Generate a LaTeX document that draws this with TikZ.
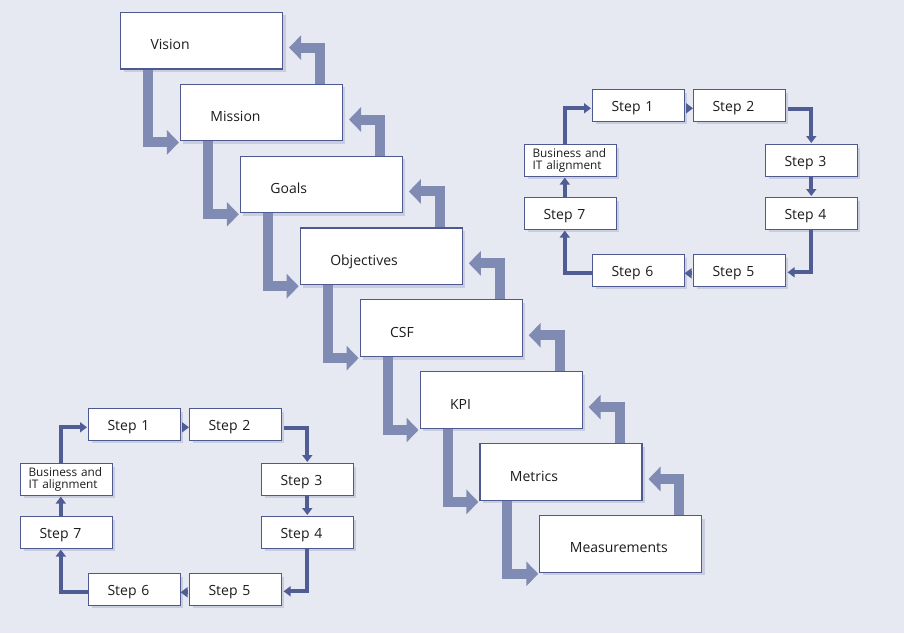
\documentclass[tikz,border=0pt]{standalone}
\usepackage{fontspec}
\setmainfont{Open Sans}
\usetikzlibrary{arrows.meta,shadows}
\definecolor{bgc}{HTML}{E6E8F2}
\definecolor{boxc}{HTML}{4E5990}
\definecolor{shc}{HTML}{C9CDE0}
\definecolor{bigc}{HTML}{7F8BB3}
\definecolor{cycc}{HTML}{505D95}
\definecolor{txtc}{HTML}{1C1C1C}
\tikzset{
  boxbase/.style={draw=boxc, fill=white, line width=1.1pt, anchor=north west,
    align=left, text=txtc,
    drop shadow={shadow xshift=3pt, shadow yshift=-3pt, fill=shc, opacity=1}},
  mainbox/.style={boxbase, minimum width=162pt, minimum height=56.7pt,
    inner xsep=30pt, text width=102pt, text height=18pt, text depth=0pt,
    font=\fontsize{14}{16}\selectfont},
  stepbox/.style={boxbase, minimum width=91.5pt, minimum height=31.5pt,
    inner xsep=19pt, text width=53.5pt, text height=12pt, text depth=0pt,
    font=\fontsize{14}{16}\selectfont},
  bizbox/.style={boxbase, minimum width=91.5pt, minimum height=31.5pt,
    inner xsep=8pt, text width=75.5pt, inner ysep=2pt,
    font=\fontsize{11.8}{12.7}\selectfont},
  bigarrow/.style={draw=bigc, line width=10pt,
    -{Triangle[length=12pt,width=24pt]}},
  cycarrow/.style={draw=cycc, line width=4pt,
    -{Triangle[length=7pt,width=10pt]}},
  stepcycle/.pic={
    \node[stepbox] (s1) at (0,0) {Step 1};
    \node[stepbox] (s2) at (101,0) {Step 2};
    \node[stepbox] (s3) at (173,55) {Step 3};
    \node[stepbox] (s4) at (173,108) {Step 4};
    \node[stepbox] (s5) at (101,165) {Step 5};
    \node[stepbox] (s6) at (0,165) {Step 6};
    \node[stepbox] (s7) at (-68,108) {Step 7};
    \node[bizbox] (biz) at (-68,55) {Business and\\IT alignment};
    \draw[cycarrow, shorten <=1pt] ([yshift=-3pt]s1.east) -- ([yshift=-3pt]s2.west);
    \draw[cycarrow, shorten >=1pt] ([xshift=2pt,yshift=-4pt]s2.east) -| (s3.north);
    \draw[cycarrow, shorten >=1pt] (s3.south) -- (s4.north);
    \draw[cycarrow, shorten >=2pt] (s4.south) |- ([yshift=-2pt]s5.east);
    \draw[cycarrow, shorten <=1pt] ([yshift=-3pt]s5.west) -- ([yshift=-3pt]s6.east);
    \draw[cycarrow, shorten >=1pt] ([yshift=-3pt]s6.west) -| ([xshift=-5.5pt]s7.south);
    \draw[cycarrow, shorten >=1pt] ([xshift=-5.5pt]s7.north) -- ([xshift=-5.5pt]biz.south);
    \draw[cycarrow, shorten >=1pt] ([xshift=-5.5pt]biz.north) |- ([yshift=-3pt]s1.west);
  }
}
\begin{document}
\begin{tikzpicture}[x=1pt, y=-1pt]
\useasboundingbox (0,0) rectangle (904,633);
\fill[bgc] (0,0) rectangle (904,633);

\node[mainbox] (vision) at (120,11.7) {Vision};
\node[mainbox] (mission) at (179.9,83.6) {Mission};
\node[mainbox] (goals) at (239.8,155.5) {Goals};
\node[mainbox] (objectives) at (299.7,227.4) {Objectives};
\node[mainbox] (csf) at (359.6,299.3) {CSF};
\node[mainbox] (kpi) at (419.5,371.2) {KPI};
\node[mainbox] (metrics) at (479.4,443.1) {Metrics};
\node[mainbox] (measurements) at (539.3,515.0) {Measurements};

\foreach \a/\b in {vision/mission, mission/goals, goals/objectives,
  objectives/csf, csf/kpi, kpi/metrics, metrics/measurements}{
  \draw[bigarrow] ([xshift=28pt]\a.south west) |- ([xshift=-1pt,yshift=-1pt]\b.south west);
  \draw[bigarrow] ([xshift=-23pt]\b.north east) |- ([xshift=6pt,yshift=-7pt]\a.east);
}

\pic (tr-) at (592,89) {stepcycle};
\pic (bl-) at (88,408) {stepcycle};
\end{tikzpicture}
\end{document}
